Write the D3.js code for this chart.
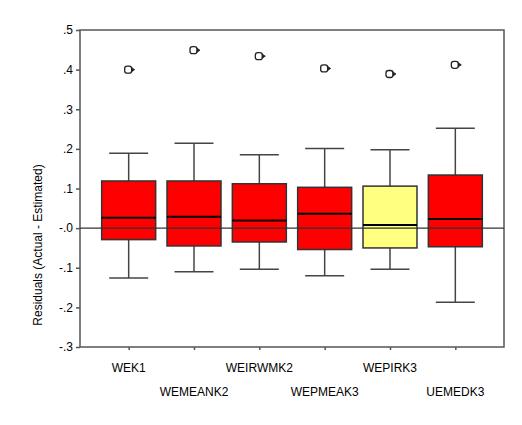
<!DOCTYPE html>
<html>
<head>
<meta charset="utf-8">
<script src="https://cdn.jsdelivr.net/npm/d3@7"></script>
<style>
  body { margin: 0; background: #fff; }
  text { font-family: Arial, "Liberation Sans", sans-serif; fill: #000; }
</style>
</head>
<body>
<div id="chart"></div>
<script>
//Datos
const categorias = ['WEK1', 'WEMEANK2', 'WEIRWMK2', 'WEPMEAK3', 'WEPIRK3', 'UEMEDK3'];
const whiskerBajo = [-0.126, -0.110, -0.104, -0.120, -0.104, -0.187];
const q1 = [-0.029, -0.045, -0.035, -0.054, -0.050, -0.047];
const mediana = [0.026, 0.029, 0.019, 0.036, 0.008, 0.023];
const q3 = [0.119, 0.119, 0.112, 0.103, 0.106, 0.134];
const whiskerAlto = [0.189, 0.214, 0.185, 0.201, 0.198, 0.252];
const atipicos = [0.400, 0.449, 0.434, 0.403, 0.389, 0.412];
const resaltado = [false, false, false, false, true, false];
const yTicks = [0.5, 0.4, 0.3, 0.2, 0.1, 0, -0.1, -0.2, -0.3];
const yTickLabels = ['.5', '.4', '.3', '.2', '.1', '-.0', '-.1', '-.2', '-.3'];

const COLOR_BOX = '#FF0000', COLOR_HIGHLIGHT = '#FFFF80';

let data = categorias.map(function(c, i) {
    return { cat: c, lo: whiskerBajo[i], q1: q1[i], med: mediana[i], q3: q3[i], hi: whiskerAlto[i], out: atipicos[i], hl: resaltado[i] };
});

let margin = {top: 30, right: 18, bottom: 78, left: 80},
    width = 522 - margin.left - margin.right,
    height = 425 - margin.top - margin.bottom;

let svg = d3.select('#chart')
    .append('svg')
        .attr('width', 522)
        .attr('height', 425)
    .append('g')
        .attr('transform', 'translate(' + margin.left + ',' + margin.top + ')');

let x = d3.scalePoint()
    .domain(categorias)
    .range([0, width])
    .padding(0.745);

let y = d3.scaleLinear()
    .domain([-0.3, 0.5])
    .range([height, 0]);

//Marco
svg.append('rect')
    .attr('width', width)
    .attr('height', height)
    .attr('fill', 'none')
    .attr('stroke', '#555')
    .attr('stroke-width', 1.5);

//Eje Y
let yAxis = svg.append('g')
    .call(d3.axisLeft(y).tickValues(yTicks).tickSize(4).tickPadding(3)
        .tickFormat(function(d, i) { return yTickLabels[i]; }));
yAxis.select('.domain').remove();
yAxis.selectAll('.tick line').attr('stroke', '#555').attr('stroke-width', 1.5);
yAxis.selectAll('.tick text').attr('font-size', '12px').style('font-family', 'Arial, "Liberation Sans", sans-serif');

//Eje X
let xAxis = svg.append('g')
    .attr('transform', 'translate(0,' + height + ')')
    .call(d3.axisBottom(x).tickSize(3).tickFormat(''));
xAxis.select('.domain').remove();
xAxis.selectAll('.tick line').attr('stroke', '#555').attr('stroke-width', 1.5);

svg.append('g')
    .selectAll('text')
    .data(categorias)
    .enter()
    .append('text')
    .attr('x', function(d) { return x(d); })
    .attr('y', function(d, i) { return height + (i % 2 == 0 ? 25 : 49); })
    .attr('text-anchor', 'middle')
    .attr('font-size', '12px')
    .text(function(d) { return d; });

//Título eje Y
svg.append('text')
    .attr('transform', 'translate(' + (-38) + ',' + 215 + ') rotate(-90)')
    .attr('text-anchor', 'middle')
    .attr('font-size', '12px')
    .text('Residuals (Actual - Estimated)');

//Cajas
let boxW = 54, capW = 39;
let grupos = svg.append('g')
    .selectAll('g')
    .data(data)
    .enter()
    .append('g')
    .attr('transform', function(d) { return 'translate(' + x(d.cat) + ',0)'; });

grupos.append('line')
    .attr('x1', 0).attr('x2', 0)
    .attr('y1', function(d) { return y(d.hi); })
    .attr('y2', function(d) { return y(d.lo); })
    .attr('stroke', '#444').attr('stroke-width', 1.5);

grupos.append('line')
    .attr('x1', -capW / 2).attr('x2', capW / 2)
    .attr('y1', function(d) { return y(d.hi); })
    .attr('y2', function(d) { return y(d.hi); })
    .attr('stroke', '#444').attr('stroke-width', 1.5);

grupos.append('line')
    .attr('x1', -capW / 2).attr('x2', capW / 2)
    .attr('y1', function(d) { return y(d.lo); })
    .attr('y2', function(d) { return y(d.lo); })
    .attr('stroke', '#444').attr('stroke-width', 1.5);

grupos.append('rect')
    .attr('x', -boxW / 2)
    .attr('width', boxW)
    .attr('y', function(d) { return y(d.q3); })
    .attr('height', function(d) { return y(d.q1) - y(d.q3); })
    .attr('fill', function(d) { return d.hl ? COLOR_HIGHLIGHT : COLOR_BOX; })
    .attr('stroke', '#333')
    .attr('stroke-width', 1.5);

grupos.append('line')
    .attr('x1', -boxW / 2).attr('x2', boxW / 2)
    .attr('y1', function(d) { return y(d.med); })
    .attr('y2', function(d) { return y(d.med); })
    .attr('stroke', '#000').attr('stroke-width', 2);

//Atípicos
grupos.append('rect')
    .attr('x', -4)
    .attr('y', function(d) { return y(d.out) - 3.5; })
    .attr('width', 7)
    .attr('height', 7)
    .attr('rx', 2.5)
    .attr('fill', 'none')
    .attr('stroke', '#222')
    .attr('stroke-width', 1.3);

grupos.append('path')
    .attr('d', function(d) { return 'M3,' + (y(d.out) - 2) + 'L6,' + y(d.out) + 'L3,' + (y(d.out) + 2) + 'Z'; })
    .attr('fill', '#222')
    .attr('stroke', '#222')
    .attr('stroke-width', 0.8);

//Línea de referencia en cero
svg.append('line')
    .attr('x1', 0).attr('x2', width)
    .attr('y1', y(0)).attr('y2', y(0))
    .attr('stroke', '#333')
    .attr('stroke-width', 1.3);
</script>
</body>
</html>
